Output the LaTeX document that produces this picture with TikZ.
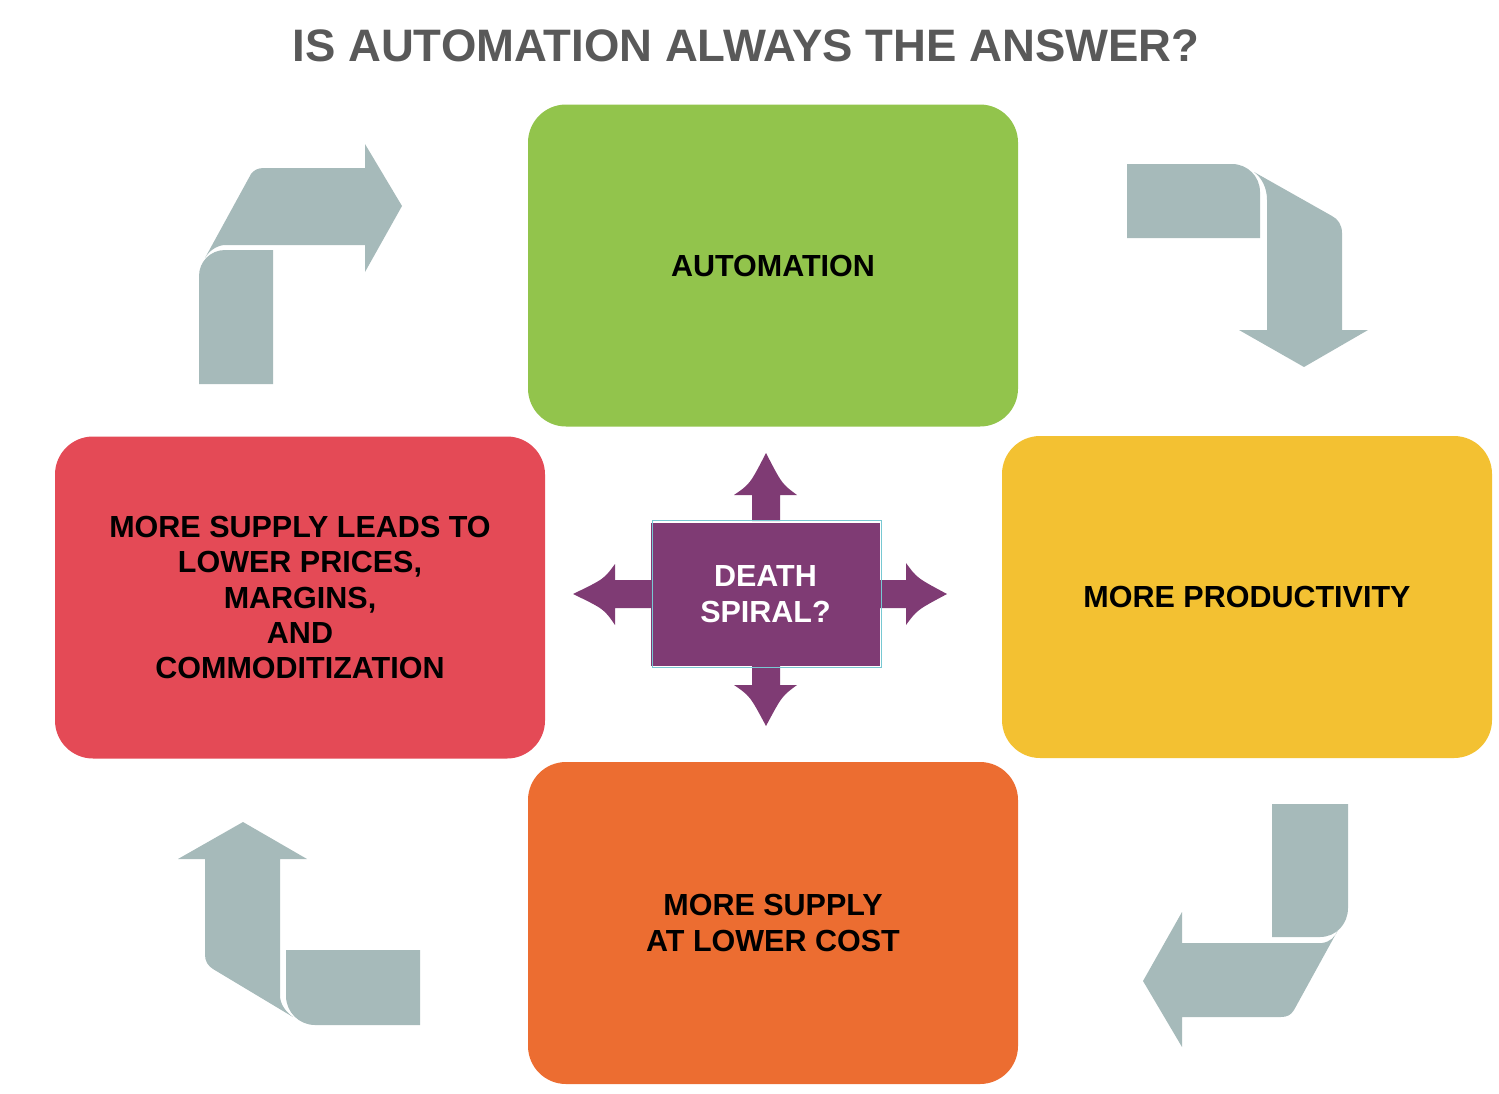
\documentclass[tikz,border=0pt]{standalone}
\usepackage{fontspec}
\setmainfont{Liberation Sans}

\definecolor{titlegray}{RGB}{89,89,89}
\definecolor{autogreen}{RGB}{146,196,76}
\definecolor{prodyellow}{RGB}{243,193,50}
\definecolor{supplyorange}{RGB}{236,109,49}
\definecolor{pricered}{RGB}{228,74,86}
\definecolor{spiralpurple}{RGB}{127,59,116}
\definecolor{spiralline}{RGB}{120,200,210}
\definecolor{bendgray}{RGB}{166,186,186}

\begin{document}
\begin{tikzpicture}[x=1pt, y=-1pt,
  box/.style={rounded corners=38pt, minimum width=490pt, minimum height=322pt,
    inner sep=0pt, align=center, font=\fontsize{30.5}{35.4}\selectfont\bfseries},
  bentarrow/.style={fill=bendgray},
  spoke/.style={fill=spiralpurple}]

  \useasboundingbox (0,0) rectangle (1499,1093);

  %%title
  \node[font=\fontsize{45.5}{54}\selectfont\bfseries, text=titlegray] (title) at (746,46) {IS AUTOMATION ALWAYS THE ANSWER?};

  %%boxes
  \node[box, fill=autogreen] (auto) at (773,265.5) {AUTOMATION};
  \node[box, fill=prodyellow] (prod) at (1247,597) {MORE PRODUCTIVITY};
  \node[box, fill=supplyorange] (supply) at (773,923) {MORE SUPPLY\\AT LOWER COST};
  \node[box, fill=pricered] (price) at (300,597.5) {MORE SUPPLY LEADS TO\\LOWER PRICES,\\MARGINS,\\AND\\COMMODITIZATION};

  %%t1 top left
  \fill[bentarrow](199,384) -- (199,276) .. controls (199,261.6) and (210.6,250) .. (225,250) -- (273,250) -- (273,384) -- cycle;
  \fill[bentarrow](365,245) -- (224,245) .. controls (216,246) and (209,251) .. (205,258)
    -- (251,174) .. controls (254,170) and (258,168) .. (264,168) -- (365,168)
    -- (365,144) -- (402,206) -- (365,272) -- cycle;

  %%t2 top right
  \fill[bentarrow](1127,164) -- (1232,164) .. controls (1247.5,164) and (1260,176.5) .. (1260,192) -- (1260,238) -- (1127,238) -- cycle;
  \fill[bentarrow](1267,330) -- (1267,200) .. controls (1267,188) and (1262,178) .. (1254,172)
    -- (1332,216) .. controls (1338,219) and (1342,225) .. (1342,233) -- (1342,330)
    -- (1368,330) -- (1304,367) -- (1239,330) -- cycle;

  %%t3 bottom right
  \fill[bentarrow](1272,804) -- (1348,804) -- (1348,908) .. controls (1348,924) and (1336,937) .. (1320,937) -- (1272,937) -- cycle;
  \fill[bentarrow](1182,943) -- (1322,943) .. controls (1330,942) and (1335,937) .. (1338,930)
    -- (1294,1010) .. controls (1291,1015) and (1287,1017) .. (1281,1017) -- (1182,1017)
    -- (1182,1047) -- (1143,981) -- (1182,912) -- cycle;

  %%t4 bottom left
  \fill[bentarrow](420,950) -- (286,950) -- (286,996) .. controls (286,1012) and (299,1025) .. (315,1025) -- (420,1025) -- cycle;
  \fill[bentarrow](280,859) -- (280,995) .. controls (280,1004) and (285,1011) .. (293,1017)
    -- (213,969) .. controls (208,966) and (205,961) .. (205,955) -- (205,859)
    -- (178,859) -- (243,822) -- (307,859) -- cycle;

  %%spokes
  \fill[spoke](752,521) -- (752,495) -- (734,495) .. controls (750,484) .. (766,453)
    .. controls (782,484) .. (797,495) -- (780,495) -- (780,521) -- cycle;
  \fill[spoke](752,662) -- (752,685) -- (734,685) .. controls (750,696) .. (766,726)
    .. controls (782,696) .. (797,685) -- (780,685) -- (780,662) -- cycle;
  \fill[spoke](652,580) -- (615,580) -- (615,564) .. controls (604,579) .. (573,594)
    .. controls (604,609) .. (615,625) -- (615,608) -- (652,608) -- cycle;
  \fill[spoke](880,580) -- (906,580) -- (906,563) .. controls (917,578) .. (947,594)
    .. controls (917,610) .. (906,625) -- (906,608) -- (880,608) -- cycle;

  %%center
  \node[spoke, minimum width=229pt, minimum height=143pt, inner sep=0pt, align=center,
    text=white, font=\fontsize{30.5}{36}\selectfont\bfseries] (spiral) at (765.5,594) {DEATH\\SPIRAL?};
  \draw[spiralline, line width=1pt](652,520.5) rectangle (881,667.5);

\end{tikzpicture}
\end{document}
